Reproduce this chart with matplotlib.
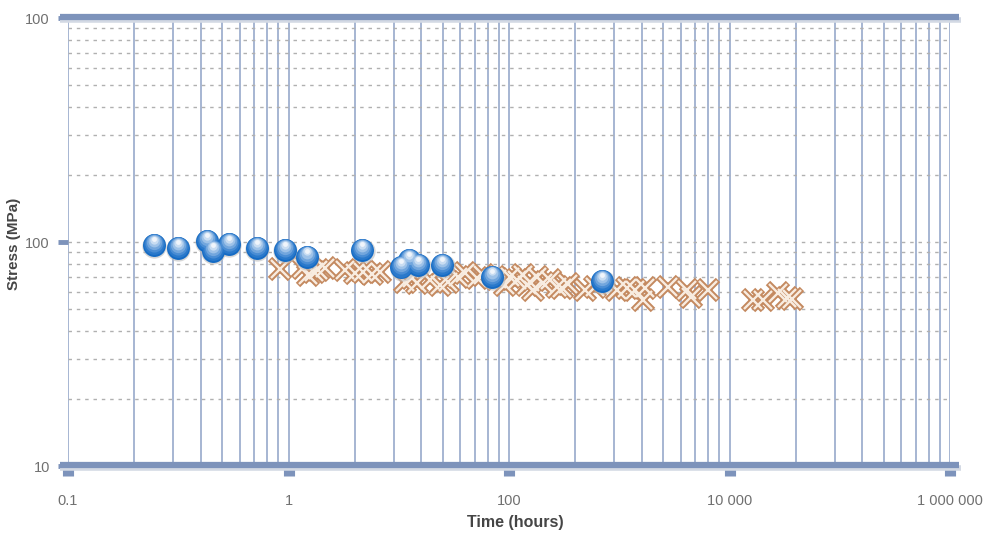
import matplotlib
matplotlib.use('Agg')
import matplotlib.pyplot as plt
import matplotlib.transforms as mtransforms
from matplotlib.lines import Line2D

plt.rcParams['font.family'] = ['Liberation Sans', 'DejaVu Sans']

# blue series (spheres)
sphere_x = [0.245, 0.315, 0.426, 0.453, 0.535, 0.716, 0.96, 1.21, 2.16,
            3.25, 3.53, 3.87, 4.98, 8.4, 26.4]
sphere_y = [97, 94, 101, 91, 98, 94, 92, 86, 92,
            77, 83, 79, 79, 70, 67]

# tan series (crosses)
cross_x = [0.915, 1.16, 1.22, 1.31, 1.36, 1.46, 1.80, 2.00, 2.18, 2.39, 2.60,
           3.38, 3.63, 3.83, 4.38, 4.87, 5.29, 5.87, 6.31, 7.16, 7.62, 8.83,
           9.59, 10.1, 10.9, 11.6, 12.1, 12.5, 12.8, 13.4, 14.3, 15.3, 16.5,
           17.4, 18.5, 22.1, 24.5, 30.9, 34.3, 37.3, 41.4, 40.5, 52.6, 64.1,
           66.9, 79.9, 128, 142, 166, 182, 192]
cross_y = [75.7, 76.6, 71.2, 73.5, 75.0, 76.6, 75.0, 72.7, 73.5, 72.0, 73.5,
           66.3, 69.1, 65.6, 67.7, 64.3, 66.3, 69.8, 72.7, 69.1, 71.2, 68.4,
           64.3, 69.8, 67.7, 71.2, 64.3, 66.3, 61.1, 69.8, 65.6, 67.7, 63.0,
           62.3, 65.0, 61.1, 63.0, 61.1, 62.3, 61.1, 62.3, 55.1, 63.0, 61.1,
           56.8, 61.1, 55.1, 55.1, 59.2, 56.2, 55.6]

x_ticks = [0.1, 1, 10, 100, 1000]
x_labels = ['0.1', '1', '100', '10 000', '1 000 000']
y_ticks = [10, 100, 1000]
y_labels = ['10', '100', '100']

frame_col = '#7d93bb'
grid_col = '#9fb0cf'

fig = plt.figure(figsize=(9.96, 5.33), dpi=100)
ax = fig.add_axes([68/996, 1 - 466/533, (950-68)/996, (466-18)/533])
ax.set_xscale('log')
ax.set_yscale('log')
ax.set_xlim(0.1, 1000)
ax.set_ylim(10, 1000)

for s in ax.spines.values():
    s.set_visible(False)

# vertical solid grid lines (all decades and sub-decades)
xg = [m * 10.0**e for e in range(-1, 3) for m in range(1, 10)] + [1000]
for v in xg:
    ax.axvline(v, color=grid_col, lw=1.3, zorder=1)
# horizontal dotted grid lines
yg = [m * 10.0**e for e in range(1, 3) for m in range(2, 10)] + [100]
for v in yg:
    ax.axhline(v, color='#b0b0b0', lw=1.0, ls=(0, (2.5, 3.5)), zorder=1)

# thick frame lines top and bottom
for yy in (0, 1):
    ax.add_line(Line2D([-0.009, 1.012], [yy - 0.004, yy - 0.004], transform=ax.transAxes,
                       color='#d3d9e4', lw=4, clip_on=False, zorder=2,
                       solid_capstyle='butt'))
    ax.add_line(Line2D([-0.009, 1.01], [yy + 0.002, yy + 0.002], transform=ax.transAxes,
                       color=frame_col, lw=4.5, clip_on=False, zorder=3,
                       solid_capstyle='butt'))

ax.set_xticks(x_ticks)
ax.set_xticklabels(x_labels)
ax.set_yticks(y_ticks)
ax.set_yticklabels(y_labels)
ax.minorticks_off()
ax.tick_params(axis='x', which='major', length=7, width=8, color=frame_col,
               direction='out', pad=13, labelsize=10.5, labelcolor='#707070')
ax.tick_params(axis='y', which='major', length=7, width=3.5, color=frame_col,
               direction='out', pad=6, labelsize=10.5, labelcolor='#707070')

# crosses: dark outline, lighter core
ax.plot(cross_x, cross_y, ls='none', marker='x', ms=14, mew=4.5,
        color='#c4895f', zorder=4, clip_on=False)
ax.plot(cross_x, cross_y, ls='none', marker='x', ms=13, mew=1.7,
        color='#f8ece0', zorder=5, clip_on=False)

# spheres: layered circles to fake shading
def shifted(dx, dy):
    return mtransforms.offset_copy(ax.transData, fig=fig, x=dx, y=dy, units='points')

ax.plot(sphere_x, sphere_y, ls='none', marker='o', ms=17.5, mew=0,
        color='#bdbdbd', alpha=0.6, zorder=6, transform=shifted(0.4, -0.9))
layers = [(16.5, '#156bc4', 0.0), (15, '#2a79cb', 0.6), (13, '#4a8dd4', 1.4),
          (11, '#72a6dd', 2.2), (8.5, '#9ec2e8', 3.0), (6, '#c9ddf2', 3.8),
          (3.5, '#f0f5fb', 4.4)]
for i, (ms, c, dy) in enumerate(layers):
    ax.plot(sphere_x, sphere_y, ls='none', marker='o', ms=ms, mew=0,
            color=c, zorder=7 + i, transform=shifted(0, dy))

fig.text(515/996, 1 - 523/533, 'Time (hours)', ha='center', va='center',
         fontsize=11.5, fontweight='bold', color='#454545')
fig.text(14/996, 1 - 244/533, 'Stress (MPa)', ha='center', va='center',
         rotation=90, fontsize=11, fontweight='bold', color='#454545')

fig.savefig('out.png', dpi=100)
